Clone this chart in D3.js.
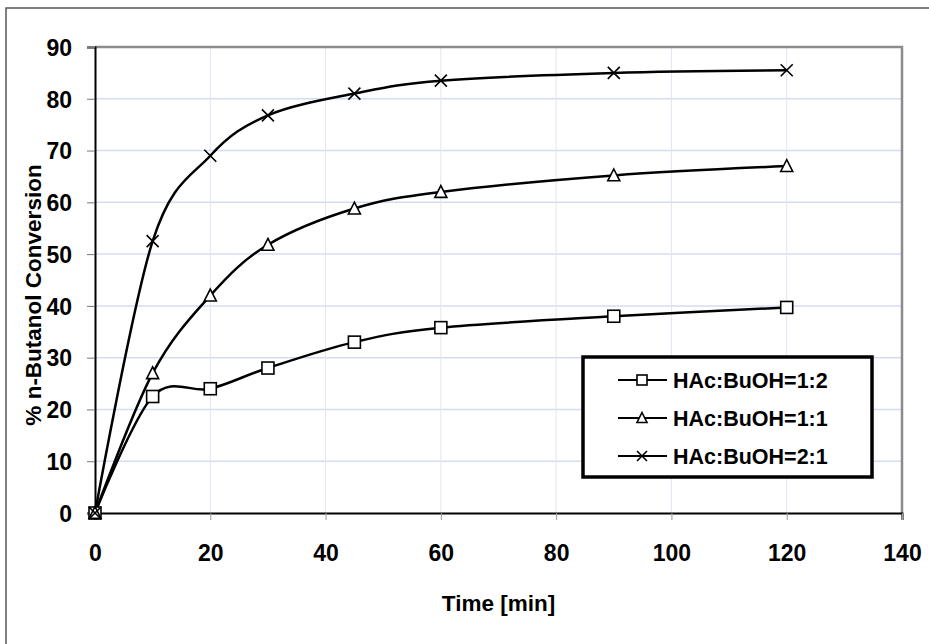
<!DOCTYPE html>
<html>
<head>
<meta charset="utf-8">
<script src="https://cdn.jsdelivr.net/npm/d3@7"></script>
<style>
  body { margin: 0; background: #fff; }
  text { font-family: "Liberation Sans", Arial, sans-serif; font-weight: bold; }
</style>
</head>
<body>
<div id="app"></div>
<script>
const times = [0, 10, 20, 30, 45, 60, 90, 120];
const ratio12 = [0, 22.5, 24, 28, 33, 35.8, 38, 39.7];
const ratio11 = [0, 27, 42, 51.8, 58.8, 62, 65.2, 67];
const ratio21 = [0, 52.5, 69, 76.8, 81, 83.5, 85, 85.5];
const seriesNames = ['HAc:BuOH=1:2', 'HAc:BuOH=1:1', 'HAc:BuOH=2:1'];
const xTicks = [0, 20, 40, 60, 80, 100, 120, 140];
const yTicks = [0, 10, 20, 30, 40, 50, 60, 70, 80, 90];

const width = 929;
const height = 644;

const svg = d3.select('#app').append('svg').attr('width', width).attr('height', height);

// outer frame
svg.append('rect')
  .attr('x', 6).attr('y', 8)
  .attr('width', 940).attr('height', 660)
  .attr('fill', 'none').attr('stroke', '#555').attr('stroke-width', 1.5);

const plot = { left: 95, right: 902, top: 47, bottom: 513 };

const xScale = d3.scaleLinear().domain([0, 140]).range([plot.left, plot.right]);
const yScale = d3.scaleLinear().domain([0, 90]).range([plot.bottom, plot.top]);

// grid
const grid = svg.append('g');
grid.selectAll('.hg').data(yTicks.slice(1, -1)).join('line')
  .attr('x1', plot.left).attr('x2', plot.right)
  .attr('y1', d => yScale(d)).attr('y2', d => yScale(d))
  .attr('stroke', '#d3ddf0').attr('stroke-width', 1.5);
grid.selectAll('.vg').data(xTicks.slice(1, -1)).join('line')
  .attr('y1', plot.top).attr('y2', plot.bottom)
  .attr('x1', d => xScale(d)).attr('x2', d => xScale(d))
  .attr('stroke', '#dfe6f3').attr('stroke-width', 1);

// plot area top / right border
svg.append('path')
  .attr('d', `M${plot.left},${plot.top}H${plot.right}V${plot.bottom}`)
  .attr('fill', 'none').attr('stroke', '#8c8c8c').attr('stroke-width', 2.5);

// Axis Y
const axisY = d3.axisLeft(yScale).tickValues(yTicks).tickSize(8).tickPadding(15);
const axisYG = svg.append('g').attr('transform', `translate(${plot.left},0)`).call(axisY);
axisYG.select('.domain').attr('stroke', '#000').attr('stroke-width', 2);
axisYG.selectAll('line').attr('stroke', '#777');
axisYG.selectAll('text').attr('font-size', 23).attr('fill', '#000').attr('dy', '0.36em');

// Axis X
const axisX = d3.axisBottom(xScale).tickValues(xTicks).tickSize(7).tickPadding(25);
const axisXG = svg.append('g').attr('transform', `translate(0,${plot.bottom})`).call(axisX);
axisXG.select('.domain').attr('stroke', '#000').attr('stroke-width', 2);
axisXG.selectAll('line').attr('stroke', '#999');
axisXG.selectAll('text').attr('font-size', 23).attr('fill', '#000');

// titles
svg.append('text')
  .attr('x', (plot.left + plot.right) / 2).attr('y', 611)
  .attr('text-anchor', 'middle').attr('font-size', 22.5)
  .text('Time [min]');
svg.append('text')
  .attr('transform', 'translate(41,295) rotate(-90)')
  .attr('text-anchor', 'middle').attr('font-size', 22.5)
  .text('% n-Butanol Conversion');

// lines
const allSeries = [ratio12, ratio11, ratio21];
const markers = ['square', 'triangle', 'cross'];

const line = d3.line()
  .curve(d3.curveCatmullRom.alpha(0))
  .x((d, i) => xScale(times[i]))
  .y(d => yScale(d));

allSeries.forEach(values => {
  svg.append('path')
    .attr('d', line(values))
    .attr('fill', 'none')
    .attr('stroke', '#000')
    .attr('stroke-width', 2.5);
});

function drawMarker(g, type, x, y, s) {
  if (type === 'square') {
    g.append('rect').attr('x', x - s / 2).attr('y', y - s / 2)
      .attr('width', s).attr('height', s)
      .attr('fill', '#fff').attr('stroke', '#000').attr('stroke-width', 1.6);
  } else if (type === 'triangle') {
    const h = s * 0.9;
    g.append('path')
      .attr('d', `M${x},${y - h / 2 - 1}L${x + s / 2},${y + h / 2}L${x - s / 2},${y + h / 2}Z`)
      .attr('fill', '#fff').attr('stroke', '#000').attr('stroke-width', 1.6);
  } else {
    const r = s / 2;
    g.append('path')
      .attr('d', `M${x - r},${y - r}L${x + r},${y + r}M${x - r},${y + r}L${x + r},${y - r}`)
      .attr('stroke', '#000').attr('stroke-width', 1.6);
  }
}

const markG = svg.append('g');
allSeries.forEach((values, si) => {
  values.forEach((v, i) => {
    drawMarker(markG, markers[si], xScale(times[i]), yScale(v), 12);
  });
});

// legend
const legend = svg.append('g');
legend.append('rect')
  .attr('x', 583).attr('y', 357).attr('width', 289).attr('height', 120)
  .attr('fill', '#fff').attr('stroke', '#000').attr('stroke-width', 3.5);

seriesNames.forEach((name, i) => {
  const y = 380 + i * 38;
  legend.append('line')
    .attr('x1', 618).attr('x2', 667).attr('y1', y).attr('y2', y)
    .attr('stroke', '#000').attr('stroke-width', 1.8);
  drawMarker(legend, markers[i], 642, y, 10);
  legend.append('text')
    .attr('x', 673).attr('y', y).attr('dy', '0.36em')
    .attr('font-size', 21.5)
    .text(name);
});
</script>
</body>
</html>
